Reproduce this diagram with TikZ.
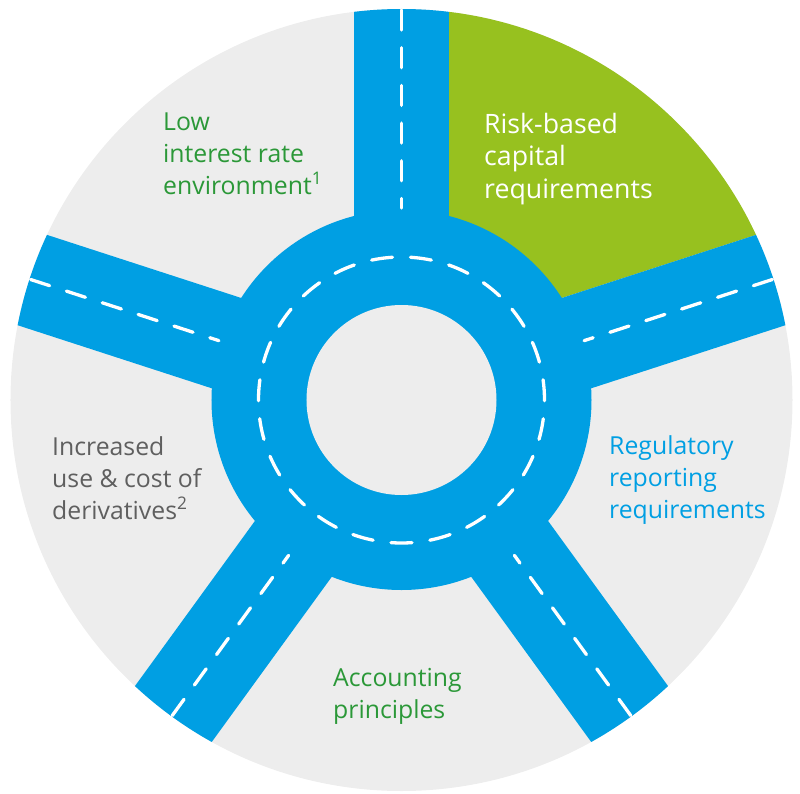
\documentclass[tikz,border=0pt]{standalone}
\usepackage{fontspec}
\setmainfont{Open Sans}
\usepackage{xcolor}
\usepackage{tikz}
\usetikzlibrary{calc}

\definecolor{roadblue}{HTML}{009FE3}
\definecolor{riskgreen}{HTML}{97C11F}
\definecolor{bggray}{HTML}{EDEDED}
\definecolor{txtgreen}{HTML}{2B9838}
\definecolor{txtgray}{HTML}{5F5F5F}

\begin{document}
\begin{tikzpicture}[x=1pt, y=1pt,
    label/.style={anchor=base west, inner sep=0pt, align=left,
      font=\fontsize{24.8}{31.8}\selectfont},
    lane/.style={white, line width=3.3pt, line cap=round,
      dash pattern=on 20pt off 17.7pt},
    ringlane/.style={white, line width=3.3pt, line cap=round,
      dash pattern=on 21pt off 18.07pt, dash phase=30.04pt}
]
\useasboundingbox (-401.5,-393) rectangle (398.5,400);
\coordinate (c) at (0,0);

% --- Fondo ---
\fill[bggray] (c) circle (391);

\begin{scope}
\clip (c) circle (391);
% --- Sector verde ---
\fill[riskgreen] (47.5,0) -- (47.5,450) -- (650,450)
      -- ($(18:650)+(108:47.5)$) -- (108:47.5) -- cycle;
% --- Calles ---
\foreach \ang in {90,18,162,234,306}
  \fill[roadblue, rotate=\ang] (0,-47.5) rectangle (420,47.5);
\end{scope}

% --- Rotonda ---
\fill[roadblue] (c) circle (190);
\fill[bggray] (c) circle (95);
\draw[ringlane] (90:143) arc[start angle=90, end angle=450, radius=143];
\foreach \ang in {90,18,162,234,306}
  \draw[lane] (\ang:390) -- (\ang:192);

% --- Textos ---
\node[label, text=txtgreen] (low) at (-238.5,206)
      {Low\\interest rate\\environment\textsuperscript{1}};
\node[label, text=white, font=\fontsize{26.7}{32.5}\selectfont]
      (risk) at (82.5,202) {Risk-based\\capital\\requirements};
\node[label, text=roadblue] (regrep) at (207.5,-118)
      {Regulatory\\reporting\\requirements};
\node[label, text=txtgray] (deriv) at (-349.5,-119)
      {Increased\\use \& cost of\\derivatives\textsuperscript{2}};
\node[label, text=txtgreen] (acct) at (-68.5,-318)
      {Accounting\\principles};
\end{tikzpicture}
\end{document}
